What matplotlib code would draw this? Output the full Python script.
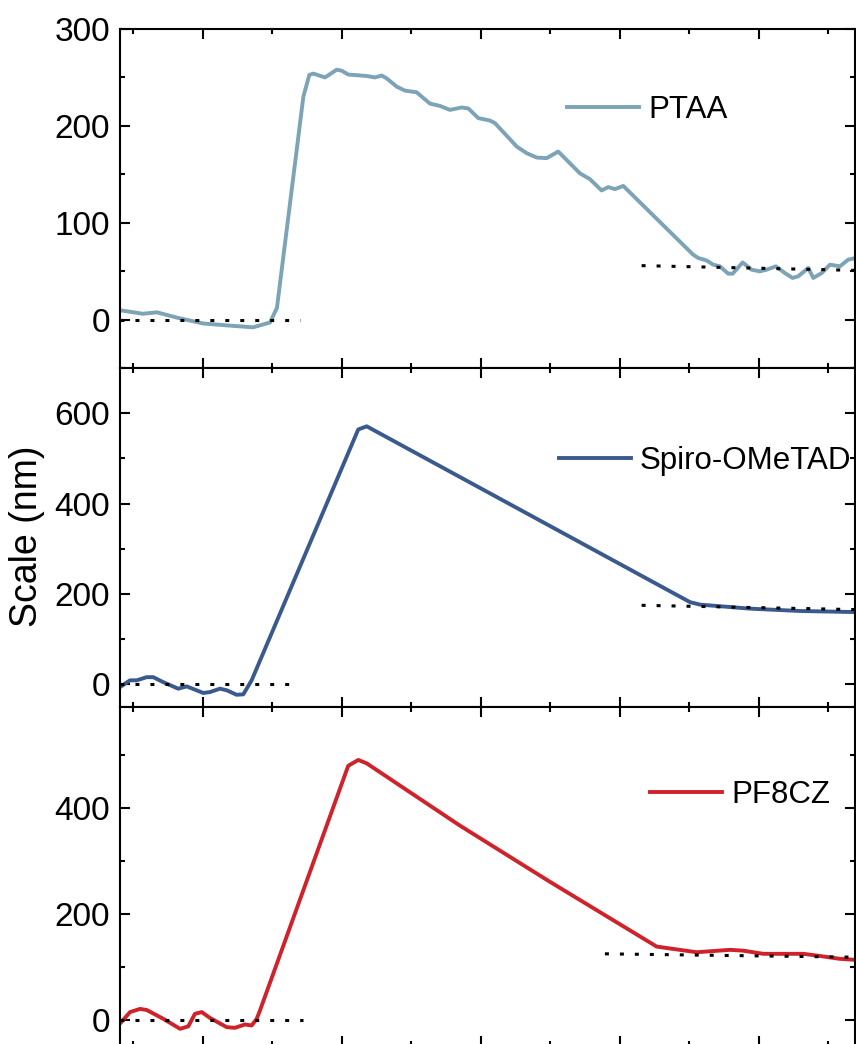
import matplotlib
matplotlib.use('Agg')
from matplotlib import pyplot as plt
from matplotlib.ticker import MultipleLocator

plt.rcParams['font.family'] = ['Liberation Sans', 'DejaVu Sans']

# PTAA profile
ptaa_x = [40.5, 56.8, 66.9, 81.3, 100.0, 117.3, 136.0, 148.2, 153.2, 172.2, 176.5, 179.4,
          187.8, 196.2, 199.8, 204.5, 217.8, 223.7, 228.6, 232.2, 239.4, 245.3, 253.7,
          263.3, 270.5, 277.7, 286.1, 290.9, 298.1, 306.5, 310.1, 325.7, 332.9, 340.1,
          347.3, 355.6, 371.2, 378.4, 386.8, 391.6, 396.4, 402.4, 452.7, 456.3, 462.4,
          467.1, 471.9, 477.9, 481.1, 488.3, 494.7, 500.7, 505.5, 512.2, 518.7, 524.2,
          528.3, 535.5, 539.1, 545.1, 551.1, 558.3, 564.2, 569.8]
ptaa_y = [9.6, 6, 7.5, 2, -4, -6, -8, -3, 12, 230, 252.6, 254,
          250, 258, 257, 253, 251.5, 250, 252, 249, 240.5, 236.4, 234.7,
          223, 220.6, 216.5, 219, 218, 208, 205.5, 202.8, 178.7, 171.8, 167.3,
          166.7, 173.5, 151, 145, 133.3, 136.8, 134.7, 138, 67, 63.6, 61,
          56.7, 55, 47.4, 47.4, 59, 51.5, 49.8, 51.5, 55, 48, 43,
          44.7, 53.3, 43, 48, 56.7, 55, 61.9, 63.6]

# Spiro-OMeTAD profile
spiro_x = [40.3, 47.5, 52.3, 59.5, 64.2, 71.4, 82.2, 88.3, 100.2, 105.0, 112.2, 117.1,
           124.2, 129.0, 135.0, 211.7, 217.8, 450.4, 457.6, 493.5, 529.5, 569.8]
spiro_y = [-6, 9, 9, 16, 16, 5, -9.5, -4.4, -19, -17, -9.5, -13,
           -23, -22, 9, 564, 571, 182, 176.5, 167.6, 162.4, 160]

# PF8CZ profile
pf8cz_x = [40.5, 47.5, 54.7, 59.5, 71.4, 83.5, 89.4, 94.2, 99.1, 105.0, 117.1, 123.0,
           130.2, 135.0, 138.6, 141.0, 204.5, 211.7, 217.8, 284.9, 349.6, 426.4, 433.6,
           455.2, 479.1, 488.7, 503.1, 531.9, 541.5, 558.3, 569.8]
pf8cz_y = [-7, 14, 20, 18, 1.3, -17.6, -13, 10.7, 14, 3, -14.5, -15.7,
           -9.4, -11.3, 1, 17, 479, 490, 483.6, 366, 260, 137.7, 135,
           127, 131.5, 130, 124, 124, 120.8, 114.5, 112.6]

# dotted reference levels: (x start, x end, y start, y end)
ptaa_refs = [(40.3, 169.8, 0, 0), (415.6, 569.8, 55.7, 50.8)]
spiro_refs = [(40.3, 168.3, 0, 0), (415.6, 569.8, 175, 165.5)]
pf8cz_refs = [(40.3, 171.9, 0, 0), (389.2, 569.8, 124, 117.6)]

panels = [
    ('PTAA', ptaa_x, ptaa_y, ptaa_refs, '#7ca3b6', (-50, 300), 100, 50, (0.608, 0.762)),
    ('Spiro-OMeTAD', spiro_x, spiro_y, spiro_refs, '#3a5a8e', (-50, 700), 200, 100, (0.597, 0.725)),
    ('PF8CZ', pf8cz_x, pf8cz_y, pf8cz_refs, '#d0222b', (-50, 590), 200, 100, (0.721, 0.740)),
]

fig, axs = plt.subplots(3, 1, sharex=True, figsize=(8.56, 10.44), dpi=100,
                        gridspec_kw={'hspace': 0})
fig.subplots_adjust(left=0.1402, right=0.9988, top=0.9722, bottom=-0.0019)

for ax, (name, xs, ys, refs, col, ylim, major, minor, legpos) in zip(axs, panels):
    ax.plot(xs, ys, color=col, linewidth=2.8, label=name, solid_joinstyle='round')
    for x0, x1, y0, y1 in refs:
        ax.plot([x0, x1], [y0, y1], color='black', linewidth=2.2,
                linestyle=(0, (1.3, 3.6)))
    ax.set_ylim(*ylim)
    ax.set_xlim(40.3, 569.1)
    ax.yaxis.set_major_locator(MultipleLocator(major))
    ax.yaxis.set_minor_locator(MultipleLocator(minor))
    ax.xaxis.set_major_locator(MultipleLocator(100))
    ax.xaxis.set_minor_locator(MultipleLocator(50))
    ax.tick_params(which='both', direction='in', top=True, right=True,
                   labelbottom=False, width=1.5)
    ax.tick_params(which='major', length=7.2, labelsize=24, pad=7)
    ax.tick_params(which='minor', length=3.6)
    for sp in ax.spines.values():
        sp.set_linewidth(1.5)
    ax.legend(frameon=False, loc='center left', bbox_to_anchor=legpos,
              borderaxespad=0, borderpad=0, handlelength=2.3,
              handletextpad=0.3, fontsize=22.5)

fig.text(0.0315, 0.486, 'Scale (nm)', rotation=90, ha='center', va='center', fontsize=27)

fig.savefig('out.png', dpi=100)
